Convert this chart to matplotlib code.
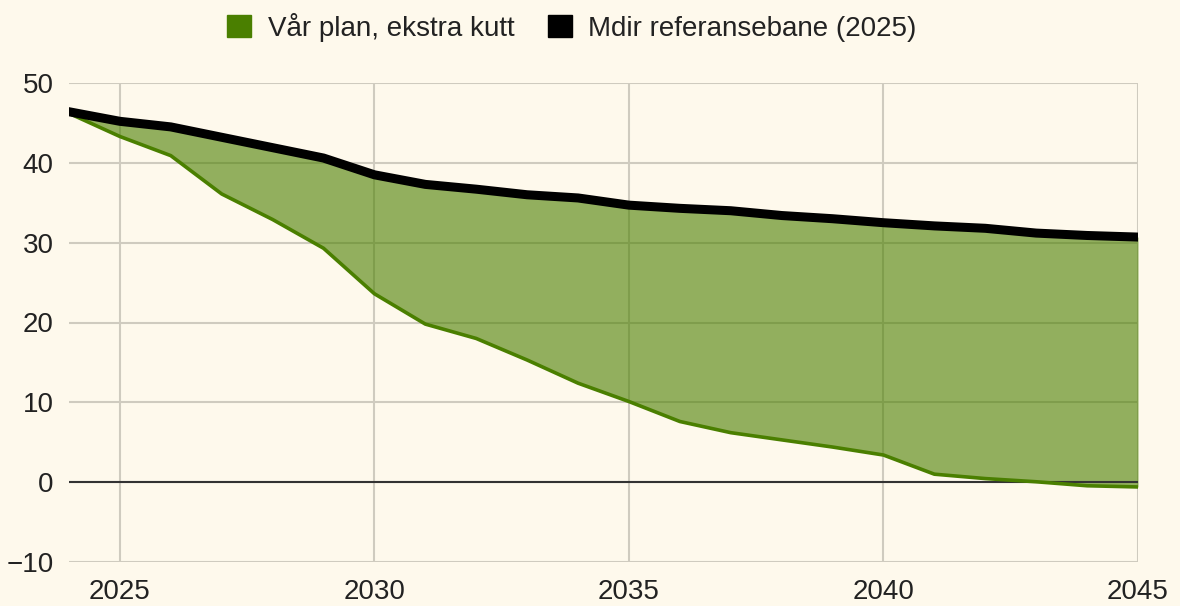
import matplotlib.pyplot as plt
from matplotlib.patches import Patch

plt.rcParams['font.family'] = ['Liberation Sans', 'DejaVu Sans']

# data
years = list(range(2024, 2046))
plan = [46.2, 43.3, 40.9, 36.1, 32.9, 29.3, 23.6, 19.8, 18.0, 15.3, 12.4,
        10.1, 7.6, 6.2, 5.3, 4.4, 3.4, 1.0, 0.45, 0.05, -0.45, -0.6]
reference = [46.4, 45.2, 44.5, 43.2, 41.9, 40.6, 38.5, 37.3, 36.7, 36.0, 35.6,
             34.7, 34.3, 34.0, 33.4, 33.0, 32.5, 32.1, 31.8, 31.2, 30.9, 30.7]
labels = ["Vår plan, ekstra kutt", "Mdir referansebane (2025)"]
xticks = [2025, 2030, 2035, 2040, 2045]
yticks = [-10, 0, 10, 20, 30, 40, 50]

bg = "#fef9ec"
green = "#4a7f00"

fig = plt.figure(figsize=(11.8, 6.06), dpi=100, facecolor=bg)
ax = fig.add_axes([69 / 1180, 1 - 562 / 606, (1138 - 69) / 1180, (562 - 83) / 606])
ax.set_facecolor(bg)

ax.fill_between(years, plan, reference, color=green, alpha=0.6, lw=0, zorder=2)
ax.axhline(0, color="#333333", lw=1.5, zorder=3)
ax.plot(years, plan, color=green, lw=2.6, zorder=4, solid_joinstyle="round")
ax.plot(years, reference, color="black", lw=6.5, zorder=5, solid_joinstyle="round")

ax.set_xlim(2024, 2045)
ax.set_ylim(-10, 50)
ax.set_xticks(xticks)
ax.set_yticks(yticks)
ax.set_yticklabels(["\u221210" if v < 0 else str(v) for v in yticks])
ax.grid(True, color="#cfcbbf", lw=1.5, zorder=1)
ax.set_axisbelow(True)
for s in ax.spines.values():
    s.set_visible(False)
ax.tick_params(length=0, labelsize=20, colors="#222222")
ax.tick_params(axis="y", pad=11)
ax.tick_params(axis="x", pad=12)

handles = [Patch(facecolor=green, edgecolor=green), Patch(facecolor="black", edgecolor="black")]
fig.legend(handles, labels, loc="center", bbox_to_anchor=(572 / 1180, 1 - 27 / 606), ncol=2,
           frameon=False, fontsize=20, handlelength=0.86, handleheight=0.86,
           handletextpad=0.6, columnspacing=1.2, labelcolor="#222222",
           borderpad=0, borderaxespad=0)

fig.savefig("out.png", facecolor=bg)
